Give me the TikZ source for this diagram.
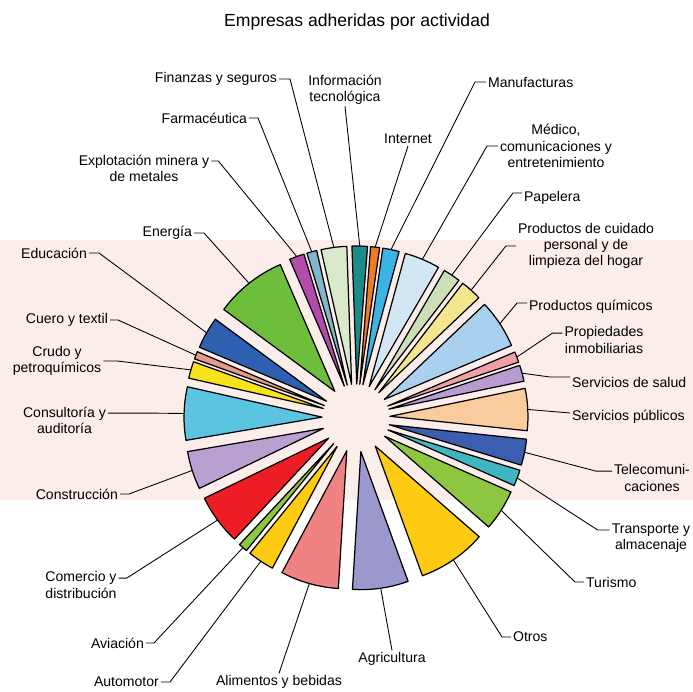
\documentclass[tikz,border=0pt]{standalone}
\usepackage{fontspec}
\setmainfont{Liberation Sans}

\definecolor{bandpink}{HTML}{FBEEEA}
\definecolor{cInfo}{HTML}{1C8C88}
\definecolor{cInternet}{HTML}{EF7B22}
\definecolor{cManuf}{HTML}{3BB3E4}
\definecolor{cMedico}{HTML}{D2E7F3}
\definecolor{cPapelera}{HTML}{CCDDB9}
\definecolor{cCuidado}{HTML}{F3E68E}
\definecolor{cQuimicos}{HTML}{A9D1EF}
\definecolor{cPropiedades}{HTML}{F0A0A4}
\definecolor{cSalud}{HTML}{B79BD1}
\definecolor{cPublicos}{HTML}{F9CB9D}
\definecolor{cTelecom}{HTML}{3D5DB1}
\definecolor{cTransporte}{HTML}{3FB5BF}
\definecolor{cTurismo}{HTML}{8DC641}
\definecolor{cOtros}{HTML}{FDCB12}
\definecolor{cAgricultura}{HTML}{9B98CD}
\definecolor{cAlimentos}{HTML}{F18284}
\definecolor{cAutomotor}{HTML}{FDCB12}
\definecolor{cAviacion}{HTML}{8DC641}
\definecolor{cComercio}{HTML}{EE1D25}
\definecolor{cConstruccion}{HTML}{B8A1D1}
\definecolor{cConsult}{HTML}{5BC4E0}
\definecolor{cCrudo}{HTML}{F6E31C}
\definecolor{cCuero}{HTML}{E89A8A}
\definecolor{cEducacion}{HTML}{2F5FB1}
\definecolor{cEnergia}{HTML}{6DBE3B}
\definecolor{cExplot}{HTML}{B24BA9}
\definecolor{cFarma}{HTML}{80B6C9}
\definecolor{cFinanzas}{HTML}{D9E9C9}

\begin{document}
\begin{tikzpicture}[
    slice/.style={draw=black, line width=0.7pt, line join=round},
    lbl/.style={font=\fontsize{8}{9.2}\selectfont, align=center, inner sep=1pt},
    leader/.style={line width=0.5pt, -}
]
    \useasboundingbox (0,0) rectangle (13.86,13.82);
    \fill[bandpink] (0,3.82) rectangle (13.86,9.02);

    \node[font=\fontsize{10}{12}\selectfont] (title) at (7.14,13.38) {Empresas adheridas por actividad};

    % exploded slices, centre of the pie at (7.12,5.46)
    \begin{scope}[shift={(7.12,5.46)}]
    \foreach \nm/\a/\b/\col in {
        info/85.5/92/cInfo, finanzas/92/102.8/cFinanzas, farma/102.8/107/cFarma,
        explot/107/113.3/cExplot, energia/113.3/143.6/cEnergia,
        educacion/143.6/157/cEducacion, cuero/157/160.2/cCuero,
        crudo/160.2/167.3/cCrudo, consult/167.3/189.7/cConsult,
        construccion/189.7/205.8/cConstruccion, comercio/205.8/227/cComercio,
        aviacion/227/230.8/cAviacion, automotor/230.8/242/cAutomotor,
        alimentos/242/266.5/cAlimentos, agricultura/266.5/290/cAgricultura,
        otros/290/318.9/cOtros, turismo/318.9/336.2/cTurismo,
        transporte/336.2/343/cTransporte, telecom/343/354/cTelecom,
        publicos/354/371.7/cPublicos, salud/371.7/378.5/cSalud,
        propiedades/378.5/383/cPropiedades, quimicos/383/403.5/cQuimicos,
        cuidado/403.5/412.5/cCuidado, papelera/412.5/419.8/cPapelera,
        medico/419.8/434.8/cMedico, manuf/434.8/441.7/cManuf,
        internet/441.7/445.5/cInternet}{
        \pgfmathsetmacro{\m}{(\a+\b)/2}
        \draw[slice, fill=\col] (\m:0.68) -- ++(\a:2.76)
            arc[start angle=\a, end angle=\b, radius=2.76] -- cycle;
        \coordinate (\nm) at (\m:3.44);
    }
    \end{scope}

    % labels
    \node[lbl, anchor=east] (l-finanzas) at (5.58,12.24) {Finanzas y seguros};
    \node[lbl] (l-info) at (6.90,12.03) {Información\\tecnológica};
    \node[lbl, anchor=west] (l-manuf) at (9.72,12.18) {Manufacturas};
    \node[lbl, anchor=east] (l-farma) at (4.98,11.46) {Farmacéutica};
    \node[lbl] (l-internet) at (8.16,11.04) {Internet};
    \node[lbl] (l-medico) at (11.12,10.90) {Médico,\\comunicaciones y\\entretenimiento};
    \node[lbl] (l-explot) at (2.88,10.46) {Explotación minera y\\de metales};
    \node[lbl, anchor=east] (l-energia) at (3.88,9.16) {Energía};
    \node[lbl, anchor=west] (l-papelera) at (10.44,9.86) {Papelera};
    \node[lbl] (l-cuidado) at (11.72,8.90) {Productos de cuidado\\personal y de\\limpieza del hogar};
    \node[lbl, anchor=east] (l-educacion) at (1.78,8.76) {Educación};
    \node[lbl, anchor=west] (l-quimicos) at (10.54,7.68) {Productos químicos};
    \node[lbl, anchor=east] (l-cuero) at (2.20,7.42) {Cuero y textil};
    \node[lbl] (l-propiedades) at (12.08,7.02) {Propiedades\\inmobiliarias};
    \node[lbl] (l-crudo) at (1.14,6.60) {Crudo y\\petroquímicos};
    \node[lbl, anchor=west] (l-salud) at (11.40,6.18) {Servicios de salud};
    \node[lbl] (l-consult) at (1.29,5.42) {Consultoría y\\auditoría};
    \node[lbl, anchor=west] (l-publicos) at (11.40,5.48) {Servicios públicos};
    \node[lbl] (l-telecom) at (13.04,4.26) {Telecomuni-\\caciones};
    \node[lbl, anchor=east] (l-construccion) at (2.40,3.94) {Construcción};
    \node[lbl] (l-transporte) at (13.02,3.06) {Transporte y\\almacenaje};
    \node[lbl] (l-comercio) at (1.62,2.12) {Comercio y\\distribución};
    \node[lbl, anchor=west] (l-turismo) at (11.68,2.18) {Turismo};
    \node[lbl, anchor=west] (l-otros) at (10.22,1.08) {Otros};
    \node[lbl, anchor=east] (l-aviacion) at (2.92,0.96) {Aviación};
    \node[lbl] (l-agricultura) at (7.84,0.64) {Agricultura};
    \node[lbl, anchor=east] (l-automotor) at (3.22,0.18) {Automotor};
    \node[lbl] (l-alimentos) at (5.58,0.18) {Alimentos y bebidas};

    % leader lines
    \draw[leader] (l-finanzas.east) -- ++(0.22,0) -- (finanzas);
    \draw[leader] (l-info.south) -- (info);
    \draw[leader] (l-manuf.west) -- ++(-0.22,0) -- (manuf);
    \draw[leader] (l-farma.east) -- ++(0.18,0) -- (farma);
    \draw[leader] (l-internet.south) -- (internet);
    \draw[leader] (l-medico.west) -- ++(-0.22,0) -- (medico);
    \draw[leader] (l-explot.north east) ++(0,-0.17) -- ++(0.14,0) -- (explot);
    \draw[leader] (l-energia.east) -- ++(0.2,0) -- (energia);
    \draw[leader] (l-papelera.west) ++(0,0.1) -- ++(-0.18,0) -- (papelera);
    \draw[leader] (l-cuidado.west) -- ++(-0.2,0) -- (cuidado);
    \draw[leader] (l-educacion.east) -- ++(0.2,0) -- (educacion);
    \draw[leader] (l-quimicos.west) ++(0,0.08) -- ++(-0.2,0) -- (quimicos);
    \draw[leader] (l-cuero.east) -- ++(0.16,0) -- (cuero);
    \draw[leader] (l-propiedades.north west) ++(0,-0.17) -- ++(-0.2,0) -- (propiedades);
    \draw[leader] (l-crudo.east) -- ++(0.28,0) -- (crudo);
    \draw[leader] (l-salud.west) ++(0,0.1) -- ++(-0.4,0) -- (salud);
    \draw[leader] (l-consult.north east) ++(0,-0.17) -- ++(0.8,0) -- (consult);
    \draw[leader] (l-publicos.west) ++(0,0.08) -- (publicos);
    \draw[leader] (l-telecom.north west) ++(0,-0.17) -- ++(-0.32,0) -- (telecom);
    \draw[leader] (l-construccion.east) -- ++(0.18,0) -- (construccion);
    \draw[leader] (l-transporte.north west) ++(0,-0.17) -- ++(-0.24,0) -- (transporte);
    \draw[leader] (l-comercio.north east) ++(0,-0.17) -- ++(0.16,0) -- (comercio);
    \draw[leader] (l-turismo.west) -- ++(-0.18,0) -- (turismo);
    \draw[leader] (l-otros.west) -- ++(-0.18,0) -- (otros);
    \draw[leader] (l-aviacion.east) -- ++(0.16,0) -- (aviacion);
    \draw[leader] (l-agricultura.north) -- (agricultura);
    \draw[leader] (l-automotor.east) -- ++(0.18,0) -- (automotor);
    \draw[leader] (l-alimentos.north) -- (alimentos);
\end{tikzpicture}
\end{document}
